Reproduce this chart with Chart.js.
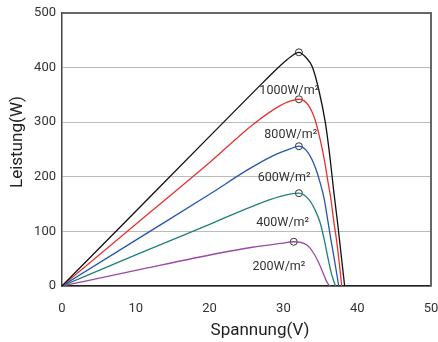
<!DOCTYPE html>
<html>
<head>
<meta charset="utf-8">
<script src="https://cdn.jsdelivr.net/npm/chart.js@4.4.1/dist/chart.umd.min.js"></script>
<style>
  html, body { margin: 0; padding: 0; background: #fff; overflow: hidden; }
  #wrap { width: 438px; height: 342px; }
  canvas { display: block; }
</style>
</head>
<body>
<div id="wrap"><canvas id="pvChart"></canvas></div>
<script>
// P-V curves: voltage (V) and power (W) for each line colour
var blackV = [0, 10, 20, 26, 29.6, 31, 32.1, 33.1, 33.9, 34.8, 35.7, 36.3, 36.8, 37.35, 37.85, 38.3];
var blackP = [0, 137, 274, 356, 404, 420, 428, 418, 402, 359, 298, 237, 176, 115, 54, 0];

var redV = [0, 10, 20, 25.8, 29.5, 31, 32.1, 33.4, 34.3, 35.0, 35.55, 36.0, 36.45, 36.8, 37.2, 37.55, 37.9];
var redP = [0, 113, 226, 295, 330, 339, 342, 331, 304, 267, 231, 194, 158, 121, 84, 45, 0];

var blueV = [0, 10, 20, 25.3, 28.5, 30.9, 32.1, 33.4, 34.3, 35.0, 35.55, 36.0, 36.45, 36.95, 37.5];
var blueP = [0, 84, 168, 214, 238, 251, 256, 243, 218, 188, 158, 121, 84, 45, 0];

var tealV = [0, 10, 20, 25.8, 29.6, 32.1, 33.4, 34.3, 35.0, 35.55, 36.0, 36.5, 37.05];
var tealP = [0, 57, 113, 146, 164, 170, 159, 139, 115, 84, 54, 23, 0];

var purpleV = [0, 10, 21.2, 25.8, 29.6, 31.4, 32.3, 33.2, 34.1, 34.8, 35.4, 35.9, 36.3];
var purpleP = [0, 28.5, 60, 71, 78, 81, 80, 75, 60, 42, 23, 7, 0];

// maximum power points (open circles)
var mppV = [32.1, 32.1, 32.1, 32.1, 31.4];
var mppP = [428, 342, 256, 170, 81];

// irradiance labels and where they sit (data units)
var irrLabels = ['1000W/m²', '800W/m²', '600W/m²', '400W/m²', '200W/m²'];
var labelV = [30.8, 31.0, 30.1, 29.9, 29.4];
var labelP = [357, 276, 198, 116, 35];

var xTicks = [0, 10, 20, 30, 40, 50];
var yTicks = [0, 100, 200, 300, 400, 500];

var lineColors = ['#111111', '#e8312f', '#2456b0', '#1f8078', '#9a4aa6'];

function toPoints(xs, ys) {
  return xs.map(function (x, i) { return { x: x, y: ys[i] }; });
}

var curveV = [blackV, redV, blueV, tealV, purpleV];
var curveP = [blackP, redP, blueP, tealP, purpleP];

var datasets = curveV.map(function (vs, i) {
  return {
    data: toPoints(vs, curveP[i]),
    showLine: true,
    borderColor: lineColors[i],
    borderWidth: 1.3,
    pointRadius: 0,
    cubicInterpolationMode: 'monotone',
    fill: false
  };
});

datasets.push({
  data: toPoints(mppV, mppP),
  showLine: false,
  pointRadius: 3.5,
  pointBackgroundColor: '#ffffff',
  pointBorderColor: '#333333',
  pointBorderWidth: 1
});

var fontFamily = 'Roboto, "Noto Sans", sans-serif';

var extrasPlugin = {
  id: 'extras',
  afterDatasetsDraw: function (chart) {
    var c = chart.ctx;
    var a = chart.chartArea;
    var sx = chart.scales.x, sy = chart.scales.y;
    c.save();
    // top and right frame
    c.strokeStyle = '#666666';
    c.lineWidth = 2;
    c.beginPath();
    c.moveTo(a.left, a.top);
    c.lineTo(a.right, a.top);
    c.lineTo(a.right, a.bottom);
    c.stroke();
    // irradiance labels
    c.fillStyle = '#333333';
    c.font = '12.5px ' + fontFamily;
    c.textAlign = 'center';
    c.textBaseline = 'middle';
    irrLabels.forEach(function (name, i) {
      c.fillText(name, sx.getPixelForValue(labelV[i]), sy.getPixelForValue(labelP[i]));
    });
    // axis titles
    c.fillStyle = '#222222';
    c.font = '17px ' + fontFamily;
    c.fillText('Spannung(V)', 260, 331);
    c.translate(18, 142);
    c.rotate(-Math.PI / 2);
    c.fillText('Leistung(W)', 0, 0);
    c.restore();
  }
};

new Chart(document.getElementById('pvChart'), {
  type: 'scatter',
  data: { datasets: datasets },
  options: {
    responsive: true,
    maintainAspectRatio: false,
    animation: false,
    layout: { padding: { left: 0, top: 13, right: 7, bottom: 0 } },
    plugins: {
      legend: { display: false },
      tooltip: { enabled: false }
    },
    scales: {
      x: {
        type: 'linear',
        min: 0,
        max: 50,
        afterBuildTicks: function (scale) {
          scale.ticks = xTicks.map(function (v) { return { value: v }; });
        },
        afterFit: function (scale) {
          scale.height = 56;
          scale.paddingLeft = 0;
          scale.paddingRight = 0;
        },
        ticks: { color: '#333333', font: { size: 13, family: fontFamily }, padding: 15 },
        grid: { display: false, drawTicks: false },
        border: { color: '#222222', width: 1.5 }
      },
      y: {
        min: 0,
        max: 500,
        afterBuildTicks: function (scale) {
          scale.ticks = yTicks.map(function (v) { return { value: v }; });
        },
        afterFit: function (scale) {
          scale.width = 62;
          scale.paddingTop = 0;
          scale.paddingBottom = 0;
        },
        ticks: { color: '#333333', font: { size: 13, family: fontFamily }, padding: 6 },
        grid: { color: '#bbbbbb', lineWidth: 1, drawTicks: false },
        border: { color: '#444444', width: 1.5 }
      }
    }
  },
  plugins: [extrasPlugin]
});
</script>
</body>
</html>
